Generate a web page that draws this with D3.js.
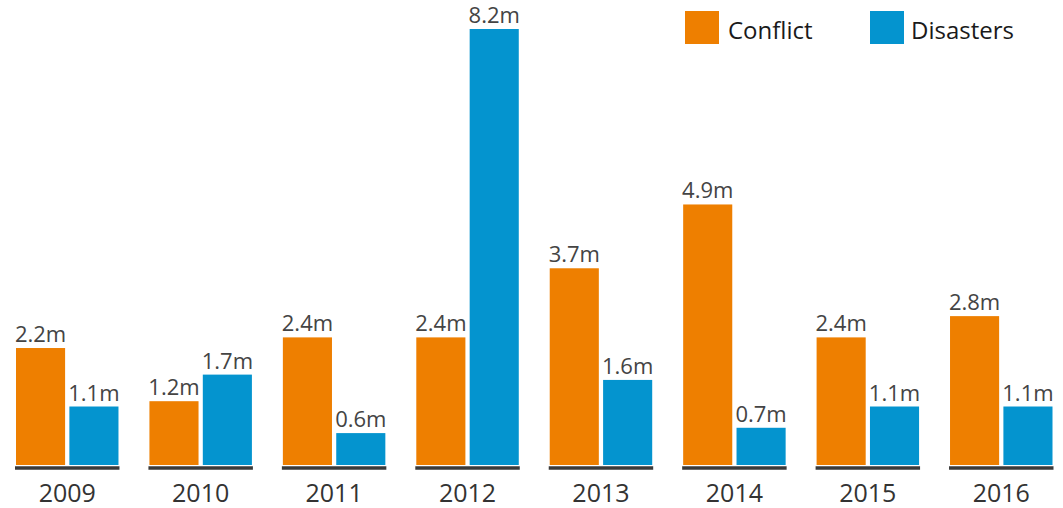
<!DOCTYPE html>
<html>
<head>
<meta charset="utf-8">
<script src="https://cdn.jsdelivr.net/npm/d3@7"></script>
<style>
  html, body { margin: 0; padding: 0; background: #fff; }
  svg { display: block; font-family: 'Open Sans', sans-serif; }
</style>
</head>
<body>
<div id="chart"></div>
<script>
// Displaced people (millions) by year
const years = ['2009', '2010', '2011', '2012', '2013', '2014', '2015', '2016'];
const seriesNames = ['Conflict', 'Disasters'];
const conflict = [2.2, 1.2, 2.4, 2.4, 3.7, 4.9, 2.4, 2.8];
const disasters = [1.1, 1.7, 0.6, 8.2, 1.6, 0.7, 1.1, 1.1];
const seriesColors = ['#EE7F00', '#0494CF'];

const width = 1063;
const height = 508;

const svg = d3.select('#chart')
  .append('svg')
  .attr('width', width)
  .attr('height', height);

// Group scale and bar-within-group scale
const x0 = d3.scaleBand()
  .domain(years)
  .range([16, 1052.5])
  .paddingInner(0.232)
  .paddingOuter(0);

const x1 = d3.scaleBand()
  .domain(seriesNames)
  .range([0, x0.bandwidth()])
  .paddingInner(0.08);

const y = d3.scaleLinear()
  .domain([0, 8.2])
  .range([465, 29]);

const color = d3.scaleOrdinal().domain(seriesNames).range(seriesColors);

const rows = years.map((yr, i) => ({
  year: yr,
  values: [
    { key: 'Conflict', value: conflict[i] },
    { key: 'Disasters', value: disasters[i] }
  ]
}));

const group = svg.append('g')
  .selectAll('g')
  .data(rows)
  .join('g')
  .attr('transform', d => `translate(${x0(d.year)},0)`);

// Bars
group.selectAll('rect')
  .data(d => d.values)
  .join('rect')
  .attr('x', d => x1(d.key))
  .attr('y', d => y(d.value))
  .attr('width', x1.bandwidth())
  .attr('height', d => y(0) - y(d.value))
  .attr('fill', d => color(d.key));

// Value labels
group.selectAll('text.value')
  .data(d => d.values)
  .join('text')
  .attr('class', 'value')
  .attr('x', d => x1(d.key) + x1.bandwidth() / 2)
  .attr('y', d => y(d.value) - 6)
  .attr('text-anchor', 'middle')
  .attr('font-size', '22px')
  .attr('fill', '#444')
  .text(d => d.value.toFixed(1) + 'm');

// Baseline under each group
group.append('line')
  .attr('x1', -1)
  .attr('x2', x0.bandwidth() + 1)
  .attr('y1', y(0) + 3)
  .attr('y2', y(0) + 3)
  .attr('stroke', '#3a3a3a')
  .attr('stroke-width', 3.5);

// Year labels
group.append('text')
  .attr('x', x0.bandwidth() / 2)
  .attr('y', 502)
  .attr('text-anchor', 'middle')
  .attr('font-size', '25px')
  .attr('fill', '#333')
  .text(d => d.year);

// Legend
const legendX = [685, 870];
const legend = svg.append('g')
  .selectAll('g')
  .data(seriesNames)
  .join('g')
  .attr('transform', (d, i) => `translate(${legendX[i]},11)`);

legend.append('rect')
  .attr('width', 34)
  .attr('height', 33)
  .attr('fill', d => color(d));

legend.append('text')
  .attr('x', (d, i) => i === 0 ? 43 : 41)
  .attr('y', 28)
  .attr('font-size', '24px')
  .attr('fill', '#1a1a1a')
  .text(d => d);
</script>
</body>
</html>
